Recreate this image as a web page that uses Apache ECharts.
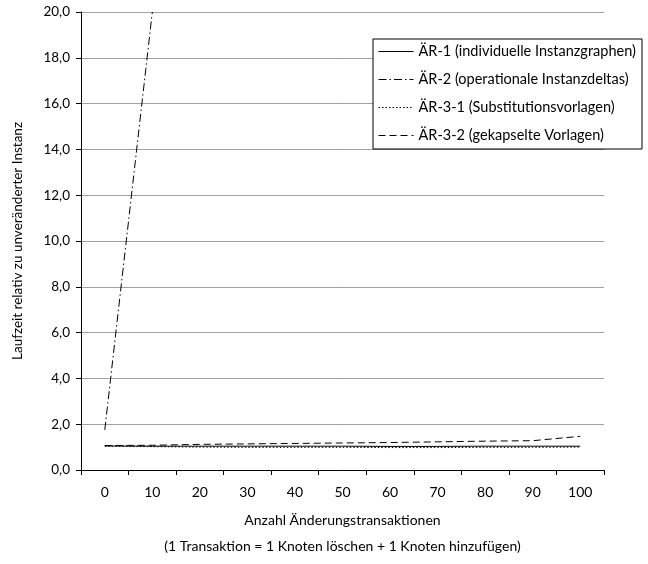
<!DOCTYPE html>
<html>
<head>
<meta charset="utf-8">
<script src="https://cdn.jsdelivr.net/npm/echarts@6/dist/echarts.min.js"></script>
<style>
  html, body { margin: 0; padding: 0; background: #fff; }
  #chart { width: 648px; height: 564px; }
</style>
</head>
<body>
<div id="chart"></div>
<script>
// Daten
var categories = ['0', '10', '20', '30', '40', '50', '60', '70', '80', '90', '100'];
var seriesNames = [
  'ÄR-1 (individuelle Instanzgraphen)',
  'ÄR-2 (operationale Instanzdeltas)',
  'ÄR-3-1 (Substitutionsvorlagen)',
  'ÄR-3-2 (gekapselte Vorlagen)'
];
var ar1 = [1.05, 1.04, 1.04, 1.04, 1.04, 1.04, 1.03, 1.03, 1.04, 1.04, 1.04];
var ar2 = [1.75, 20.0, null, null, null, null, null, null, null, null, null];
var ar31 = [1.04, 1.02, 1.0, 0.99, 0.99, 0.99, 0.98, 0.98, 0.99, 0.99, 1.0];
var ar32 = [1.07, 1.08, 1.12, 1.14, 1.16, 1.18, 1.2, 1.23, 1.26, 1.28, 1.47];

var font = 'Lato';
var chart = echarts.init(document.getElementById('chart'));

function line(name, data, dash) {
  return {
    name: name,
    type: 'line',
    data: data,
    symbol: 'none',
    showSymbol: false,
    connectNulls: false,
    lineStyle: { color: '#000', width: 1, type: dash },
    itemStyle: { color: '#000' },
    z: 3
  };
}

var option = {
  animation: false,
  backgroundColor: '#fff',
  textStyle: { fontFamily: font, color: '#000' },
  grid: { left: 81, top: 12, right: 44, bottom: 91 },
  graphic: [{
    type: 'rect',
    z: 10,
    shape: { x: 373, y: 39, width: 269, height: 110 },
    style: { fill: '#fff', stroke: '#000', lineWidth: 1 }
  }],
  legend: {
    z: 20,
    orient: 'vertical',
    left: 378,
    top: 44,
    padding: 0,
    itemWidth: 35,
    itemHeight: 14,
    itemGap: 13,
    itemStyle: { opacity: 0 },
    lineStyle: { width: 1, color: '#000' },
    textStyle: { fontFamily: font, fontSize: 14.5, color: '#000' },
    data: seriesNames
  },
  xAxis: {
    type: 'category',
    data: categories,
    boundaryGap: true,
    name: 'Anzahl Änderungstransaktionen\n(1 Transaktion = 1 Knoten löschen + 1 Knoten hinzufügen)',
    nameLocation: 'middle',
    nameGap: 37,
    nameTextStyle: { fontFamily: font, fontSize: 14, color: '#000', lineHeight: 26 },
    axisLine: { lineStyle: { color: '#000', width: 1 } },
    axisTick: { show: true, inside: false, length: 5, lineStyle: { color: '#000' } },
    axisLabel: { margin: 15, fontFamily: font, fontSize: 14, color: '#000', interval: 0 },
    splitLine: { show: false }
  },
  yAxis: {
    type: 'value',
    min: 0,
    max: 20,
    interval: 2,
    name: 'Laufzeit relativ zu unveränderter Instanz',
    nameLocation: 'middle',
    nameGap: 56,
    nameTextStyle: { fontFamily: font, fontSize: 13.5, color: '#000' },
    axisLine: { show: true, lineStyle: { color: '#000', width: 1 } },
    axisTick: { show: true, length: 5, lineStyle: { color: '#000' } },
    axisLabel: {
      margin: 11,
      fontFamily: font,
      fontSize: 13.5,
      color: '#000',
      formatter: function (v) { return v.toFixed(1).replace('.', ','); }
    },
    splitLine: { lineStyle: { color: '#a0a0a0', width: 1 } }
  },
  series: [
    line(seriesNames[0], ar1, 'solid'),
    line(seriesNames[1], ar2, [8, 3, 1.5, 3]),
    line(seriesNames[2], ar31, [1.5, 2]),
    line(seriesNames[3], ar32, [7, 4])
  ]
};

chart.setOption(option);
window.addEventListener('resize', chart.resize);
</script>
</body>
</html>
